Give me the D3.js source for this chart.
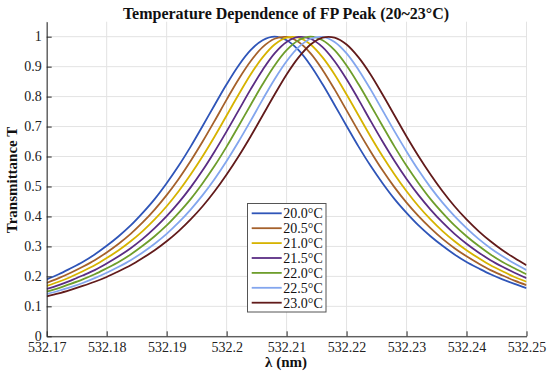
<!DOCTYPE html>
<html><head><meta charset="utf-8">
<script src="https://cdn.jsdelivr.net/npm/d3@7"></script>
<style>
html,body{margin:0;padding:0;background:#fff;}
svg{display:block;}
svg text{font-family:"Liberation Serif","Times New Roman",serif !important;}
</style></head>
<body>
<svg id="chart" width="550" height="382"></svg>
<script>
// ---- data ----
const wavelength = [532.170,532.172,532.174,532.176,532.178,532.180,532.182,532.184,532.186,532.188,532.190,532.192,532.194,532.196,532.198,532.200,532.202,532.204,532.206,532.208,532.210,532.212,532.214,532.216,532.218,532.220,532.222,532.224,532.226,532.228,532.230,532.232,532.234,532.236,532.238,532.240,532.242,532.244,532.246,532.248,532.250];
const seriesNames = ["20.0°C","20.5°C","21.0°C","21.5°C","22.0°C","22.5°C","23.0°C"];
const T20_0 = [0.190,0.207,0.227,0.248,0.273,0.302,0.334,0.370,0.412,0.458,0.511,0.569,0.633,0.702,0.772,0.841,0.904,0.955,0.988,1.000,0.988,0.955,0.904,0.841,0.772,0.702,0.633,0.569,0.511,0.458,0.412,0.370,0.334,0.302,0.273,0.248,0.227,0.207,0.190,0.175,0.161];
const T20_5 = [0.178,0.194,0.212,0.232,0.254,0.280,0.309,0.342,0.380,0.423,0.471,0.525,0.585,0.650,0.719,0.790,0.858,0.918,0.965,0.993,0.999,0.982,0.944,0.889,0.824,0.754,0.684,0.617,0.554,0.497,0.446,0.401,0.361,0.325,0.294,0.267,0.243,0.221,0.203,0.186,0.171];
const T21_0 = [0.168,0.182,0.198,0.217,0.237,0.261,0.287,0.317,0.351,0.390,0.434,0.484,0.540,0.601,0.667,0.737,0.807,0.874,0.931,0.974,0.997,0.997,0.974,0.931,0.874,0.807,0.737,0.667,0.601,0.540,0.484,0.434,0.390,0.351,0.317,0.287,0.261,0.237,0.217,0.198,0.182];
const T21_5 = [0.158,0.171,0.186,0.203,0.221,0.243,0.267,0.294,0.325,0.361,0.401,0.446,0.497,0.554,0.617,0.684,0.754,0.824,0.889,0.944,0.982,0.999,0.993,0.965,0.918,0.858,0.790,0.719,0.650,0.585,0.525,0.471,0.423,0.380,0.342,0.309,0.280,0.254,0.232,0.212,0.194];
const T22_0 = [0.149,0.161,0.175,0.190,0.207,0.227,0.248,0.273,0.302,0.334,0.370,0.412,0.458,0.511,0.569,0.633,0.702,0.772,0.841,0.904,0.955,0.988,1.000,0.988,0.955,0.904,0.841,0.772,0.702,0.633,0.569,0.511,0.458,0.412,0.370,0.334,0.302,0.273,0.248,0.227,0.207];
const T22_5 = [0.141,0.152,0.164,0.178,0.194,0.212,0.232,0.254,0.280,0.309,0.342,0.380,0.423,0.471,0.525,0.585,0.650,0.719,0.790,0.858,0.918,0.965,0.993,0.999,0.982,0.944,0.889,0.824,0.754,0.684,0.617,0.554,0.497,0.446,0.401,0.361,0.325,0.294,0.267,0.243,0.221];
const T23_0 = [0.133,0.143,0.155,0.168,0.182,0.198,0.217,0.237,0.261,0.287,0.317,0.351,0.390,0.434,0.484,0.540,0.601,0.667,0.737,0.807,0.874,0.931,0.974,0.997,0.997,0.974,0.931,0.874,0.807,0.737,0.667,0.601,0.540,0.484,0.434,0.390,0.351,0.317,0.287,0.261,0.237];
const xTicks = [532.17,532.18,532.19,532.20,532.21,532.22,532.23,532.24,532.25];
const xTickLabels = ["532.17","532.18","532.19","532.2","532.21","532.22","532.23","532.24","532.25"];
const yTicks = [0,0.1,0.2,0.3,0.4,0.5,0.6,0.7,0.8,0.9,1];
const yTickLabels = ["0","0.1","0.2","0.3","0.4","0.5","0.6","0.7","0.8","0.9","1"];
const colors = ["#2f55b8","#a5612b","#d6b300","#5b2d84","#6e9e2c","#83a6ee","#621b1b"];

// ---- layout ----
const svg = d3.select("#chart");
const L = 46.7, R = 526.5, Tp = 21.7, B = 336.3;
const x = d3.scaleLinear().domain([532.17, 532.25]).range([L, R]);
const y = d3.scaleLinear().domain([0, 1.05]).range([B, Tp]);
const allSeries = [T20_0,T20_5,T21_0,T21_5,T22_0,T22_5,T23_0];
const SERIF = '"Liberation Serif","Times New Roman",serif';

// grid
const grid = svg.append("g");
grid.selectAll("line.gx").data(xTicks).join("line")
  .attr("x1", d => x(d)).attr("x2", d => x(d)).attr("y1", Tp).attr("y2", B)
  .attr("stroke", "#e3e3e3").attr("stroke-width", 1);
grid.selectAll("line.gy").data(yTicks).join("line")
  .attr("x1", L).attr("x2", R).attr("y1", d => y(d)).attr("y2", d => y(d))
  .attr("stroke", "#e3e3e3").attr("stroke-width", 1);

// clip
svg.append("clipPath").attr("id","clip").append("rect")
  .attr("x", L).attr("y", Tp).attr("width", R-L).attr("height", B-Tp);

const line = d3.line().x((d,i) => x(wavelength[i])).y(d => y(d)).curve(d3.curveCatmullRom);
svg.append("g").attr("clip-path","url(#clip)")
  .selectAll("path").data(allSeries).join("path")
  .attr("d", d => line(d)).attr("fill","none")
  .attr("stroke", (d,i) => colors[i]).attr("stroke-width", 1.8);

// axes
const xAxis = d3.axisBottom(x).tickValues(xTicks).tickFormat((d,i) => xTickLabels[i]).tickSizeInner(-5).tickSizeOuter(0).tickPadding(5.5);
const gx = svg.append("g").attr("transform", `translate(0,${B})`).call(xAxis);
const yAxis = d3.axisLeft(y).tickValues(yTicks).tickFormat((d,i) => yTickLabels[i]).tickSizeInner(-5).tickSizeOuter(0).tickPadding(5);
const gy = svg.append("g").attr("transform", `translate(${L},0)`).call(yAxis);
[gx, gy].forEach(g => {
  g.attr("font-family", SERIF).attr("font-size", 14);
  g.select(".domain").attr("stroke", "#262626").attr("stroke-width", 1);
  g.selectAll(".tick line").attr("stroke", "#262626");
  g.selectAll(".tick text").style("font-family", SERIF).attr("font-size", 14).attr("fill", "#222");
});
gy.selectAll(".tick text").attr("dy", "0.28em");

// title & labels
svg.append("text").attr("x", 286).attr("y", 19).attr("text-anchor","middle").style("font-family", SERIF)
  .attr("font-weight","bold").attr("font-size", 16).attr("fill","#111").text("Temperature Dependence of FP Peak (20~23°C)");
svg.append("text").attr("x", 286).attr("y", 367).attr("text-anchor","middle").style("font-family", SERIF)
  .attr("font-weight","bold").attr("font-size", 15).attr("fill","#111").text("λ (nm)");
svg.append("text").attr("transform","translate(16.5,180) rotate(-90)").attr("text-anchor","middle").style("font-family", SERIF)
  .attr("font-weight","bold").attr("font-size", 15).attr("fill","#111").text("Transmittance T");

// legend
const lg = svg.append("g");
lg.append("rect").attr("x", 247.5).attr("y", 203.5).attr("width", 78.5).attr("height", 108.5)
  .attr("fill","#fff").attr("stroke","#555").attr("stroke-width", 1);
const rows = lg.selectAll("g.row").data(seriesNames).join("g")
  .attr("transform", (d,i) => `translate(0,${213.3 + i*14.9})`);
rows.append("line").attr("x1", 251.7).attr("x2", 281.7).attr("y1", 0).attr("y2", 0)
  .attr("stroke", (d,i) => colors[i]).attr("stroke-width", 1.8);
rows.append("text").attr("x", 283.3).attr("y", 0).attr("dy","0.35em").style("font-family", SERIF)
  .attr("font-size", 14).attr("fill","#111").text(d => d);
</script>
</body></html>
